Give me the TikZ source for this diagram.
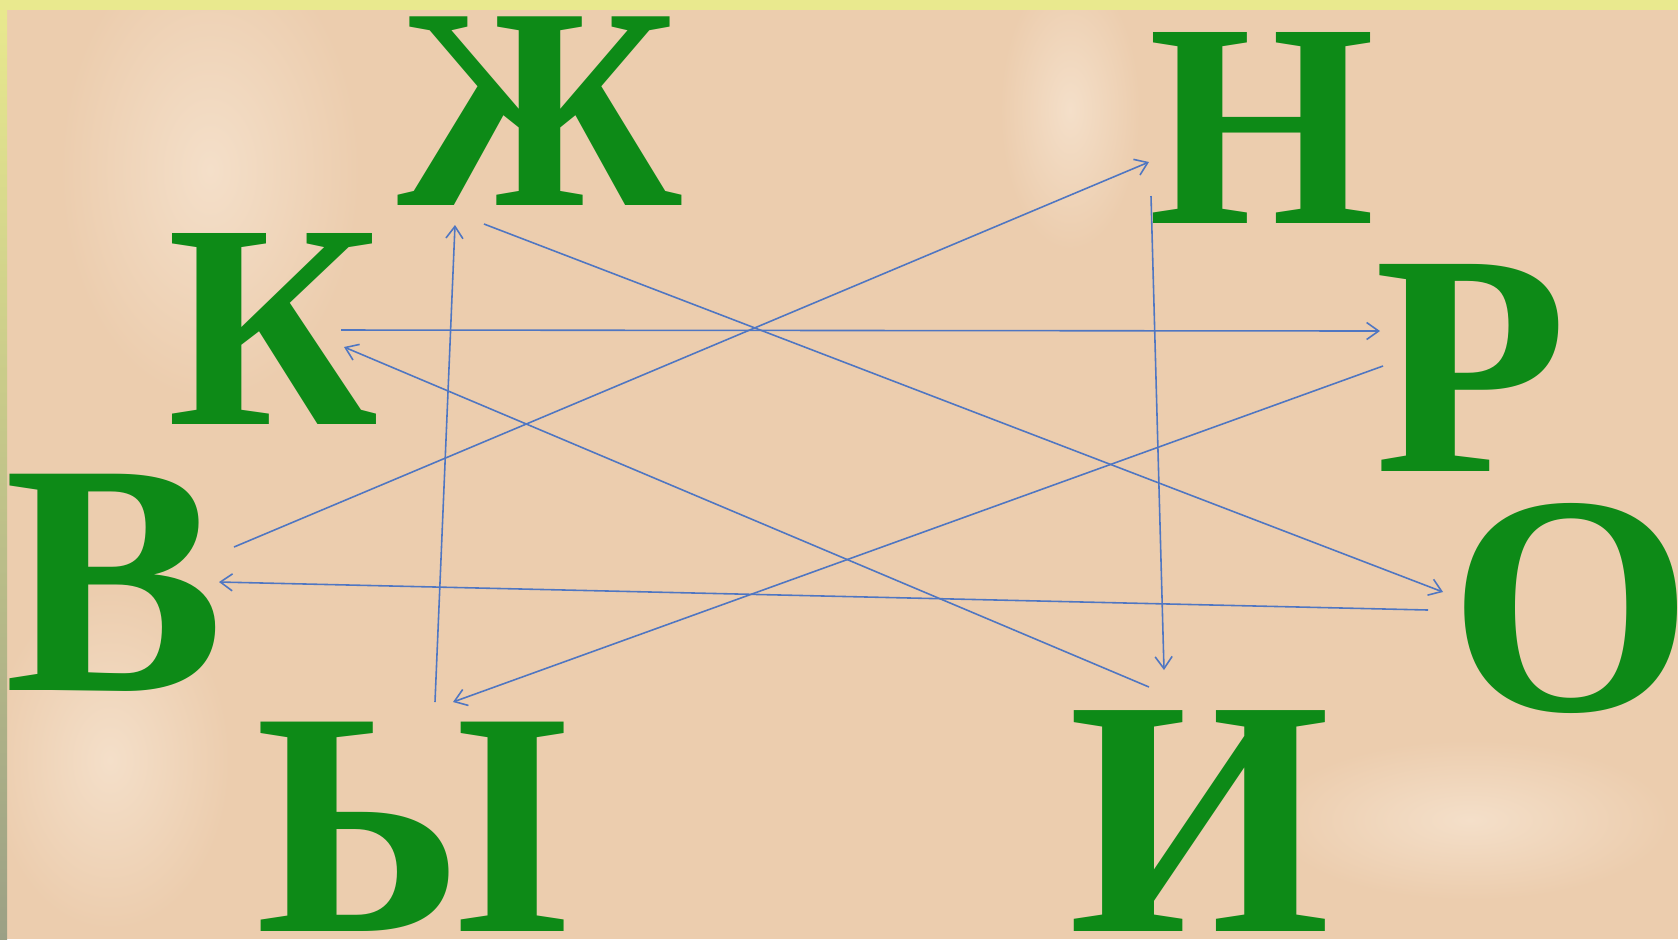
\documentclass[tikz,border=0pt]{standalone}
\usepackage{fontspec}
\setmainfont{Liberation Serif}
\usepackage{tikz}
\usetikzlibrary{arrows.meta}
\definecolor{paper}{HTML}{ECCDAE}
\definecolor{paperlight}{HTML}{F4DFC9}
\definecolor{stripy}{HTML}{E9E98E}
\definecolor{stripg}{HTML}{9BA085}
\definecolor{leafgreen}{HTML}{0D8A17}
\definecolor{penblue}{HTML}{4F76C2}

\begin{document}
\begin{tikzpicture}[x=0.1mm,y=-0.1mm,
  letter/.style={inner sep=0pt,anchor=base,text=leafgreen,font=\bfseries},
  glow/.style={inner color=paperlight,outer color=paper},
  arr/.style={penblue,line width=0.45pt,-{Straight Barb[length=1.2mm,width=1.7mm]}}]
 \useasboundingbox (0,0) rectangle (1678,939);
 % background and frame
 \begin{scope}
 \clip (0,0) rectangle (1678,939);
 \fill[paper] (0,0) rectangle (1678,939);
 \shade[glow] (210,170) ellipse (150 and 230);
 \shade[glow] (110,760) ellipse (120 and 170);
 \shade[glow] (1070,110) ellipse (70 and 140);
 \shade[glow] (1470,820) ellipse (200 and 80);
 \end{scope}
 \shade[top color=stripy,bottom color=stripg] (0,0) rectangle (7,939);
 \fill[stripy] (0,0) rectangle (1678,10);
 % letters
 \foreach \n/\t/\x/\y/\s in {zh/Ж/540/205/82, n/Н/1262/223/83, k/К/273/424/83,
   r/Р/1471/471/90, v/В/115/690/94, o/О/1571/710/89, y/Ы/413/931/91, i/И/1200/931/96}
   {\node[letter] (\n) at (\x,\y) {\fontsize{\s}{\s}\selectfont\t};}
 % arrow ends
 \coordinate (vout) at (234,547);  \coordinate (nin) at (1149,162);
 \coordinate (nout) at (1151,196); \coordinate (iin) at (1164,670);
 \coordinate (iout) at (1149,687); \coordinate (kin) at (344,347);
 \coordinate (kout) at (341,330);  \coordinate (rin) at (1380,331);
 \coordinate (rout) at (1383,366); \coordinate (yin) at (453,702);
 \coordinate (yout) at (435,702);  \coordinate (zhin) at (455,225);
 \coordinate (zhout) at (484,224); \coordinate (oin) at (1443,592);
 \coordinate (oout) at (1428,610); \coordinate (vin) at (219,582);
 \foreach \a/\b in {vout/nin,nout/iin,iout/kin,kout/rin,rout/yin,yout/zhin,zhout/oin,oout/vin}
   {\draw[arr] (\a) -- (\b);}
\end{tikzpicture}
\end{document}
